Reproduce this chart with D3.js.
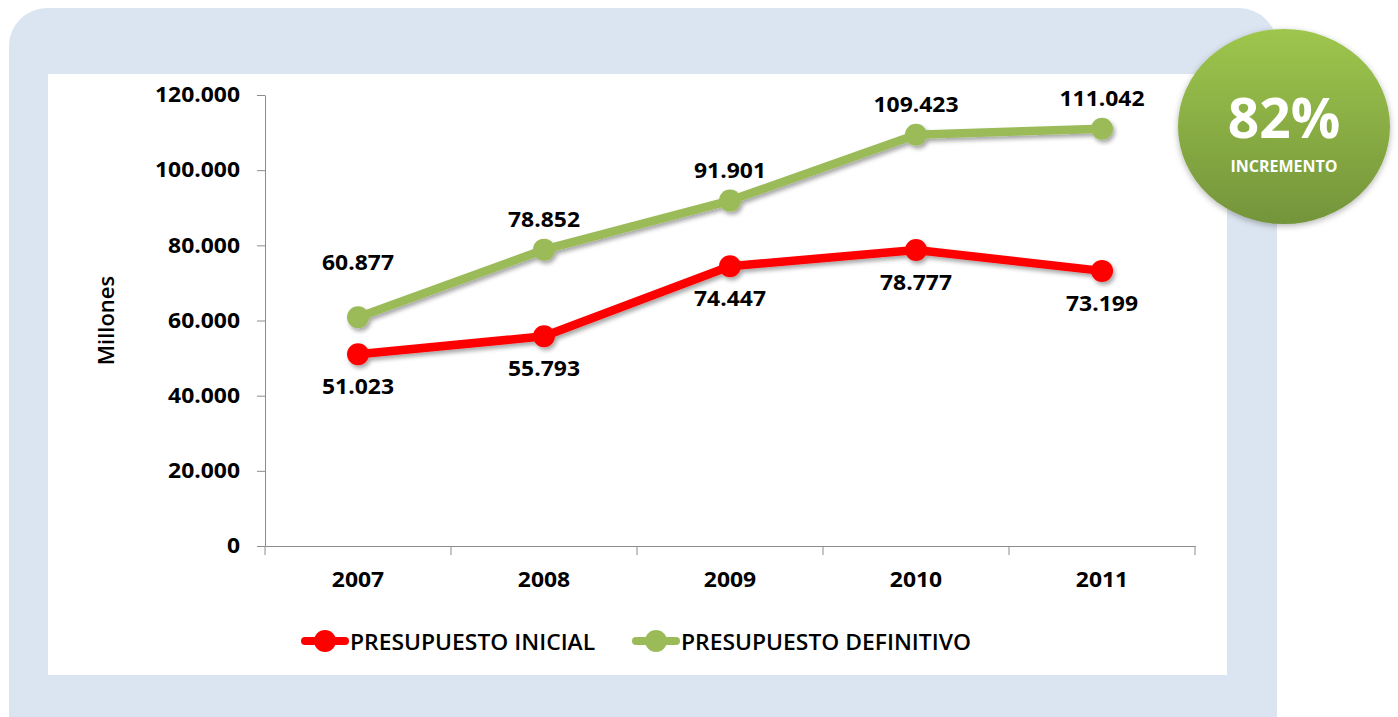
<!DOCTYPE html>
<html>
<head>
<meta charset="utf-8">
<script src="https://cdn.jsdelivr.net/npm/d3@7"></script>
<style>
  html, body { margin: 0; padding: 0; background: #ffffff; }
  svg { display: block; }
  text { font-family: "Open Sans", "Liberation Sans", sans-serif; }
</style>
</head>
<body>
<svg id="chart" width="1398" height="717"></svg>
<script>
// Budget per year, in millions
const years = ["2007", "2008", "2009", "2010", "2011"];
const presupuestoInicial = [51023, 55793, 74447, 78777, 73199];
const presupuestoDefinitivo = [60877, 78852, 91901, 109423, 111042];
const yTicks = [0, 20000, 40000, 60000, 80000, 100000, 120000];
const seriesNames = ["PRESUPUESTO INICIAL", "PRESUPUESTO DEFINITIVO"];
const incremento = "82%";
const incrementoLabel = "INCREMENTO";
const yAxisTitle = "Millones";

const svg = d3.select("#chart");
const textStretch = 1.09;

const locale = d3.formatLocale({ decimal: ",", thousands: ".", grouping: [3], currency: ["", ""] });
const fmt = locale.format(",");

// filters
const defs = svg.append("defs");
const sh = defs.append("filter").attr("id", "lineShadow")
  .attr("x", "-10%").attr("y", "-20%").attr("width", "130%").attr("height", "160%");
sh.append("feDropShadow").attr("dx", 2).attr("dy", 3).attr("stdDeviation", 2)
  .attr("flood-color", "#000").attr("flood-opacity", 0.35);
const bsh = defs.append("filter").attr("id", "badgeShadow")
  .attr("x", "-20%").attr("y", "-20%").attr("width", "140%").attr("height", "140%");
bsh.append("feDropShadow").attr("dx", 0).attr("dy", 2).attr("stdDeviation", 3)
  .attr("flood-color", "#000").attr("flood-opacity", 0.3);
const grad = defs.append("linearGradient").attr("id", "badgeGrad")
  .attr("x1", 0).attr("y1", 0).attr("x2", 0).attr("y2", 1);
grad.append("stop").attr("offset", "0%").attr("stop-color", "#9ec64d");
grad.append("stop").attr("offset", "100%").attr("stop-color", "#74943a");

// frame
svg.append("rect").attr("x", 9).attr("y", 8).attr("width", 1268).attr("height", 760)
  .attr("rx", 38).attr("ry", 38).attr("fill", "#dbe5f1");
svg.append("rect").attr("x", 48).attr("y", 74).attr("width", 1179).attr("height", 601)
  .attr("fill", "#ffffff");

// scales
const x = d3.scaleBand().domain(years).range([265, 1195]);
const y = d3.scaleLinear().domain([0, 120000]).range([546, 95]);

const g = svg.append("g");

// y axis
const yAxis = g.append("g").attr("transform", `translate(${x.range()[0]},0)`)
  .call(d3.axisLeft(y).tickValues(yTicks).tickFormat(fmt).tickSize(8).tickSizeOuter(0).tickPadding(17));
yAxis.select(".domain").attr("stroke", "#8c8c8c");
yAxis.selectAll(".tick line").attr("stroke", "#8c8c8c");
yAxis.selectAll(".tick text")
  .attr("x", -25 / textStretch)
  .attr("transform", `scale(${textStretch},1)`)
  .attr("font-size", 21).attr("font-weight", 700).attr("fill", "#000")
  .attr("font-family", "'Open Sans', sans-serif");

// x axis
const xAxis = g.append("g").attr("transform", `translate(0,${y(0)})`)
  .call(d3.axisBottom(x).tickSize(0).tickSizeOuter(0).tickPadding(26));
xAxis.select(".domain").attr("stroke", "#8c8c8c");
xAxis.selectAll(".tick text")
  .attr("transform", `scale(${textStretch},1)`)
  .attr("font-size", 21).attr("font-weight", 700).attr("fill", "#000")
  .attr("font-family", "'Open Sans', sans-serif");
// category boundary tick marks
const bounds = years.map(d => x(d)).concat([x.range()[1]]);
xAxis.selectAll(".bound").data(bounds).enter().append("line")
  .attr("class", "bound")
  .attr("x1", d => d).attr("x2", d => d).attr("y1", 0).attr("y2", 9)
  .attr("stroke", "#8c8c8c");

// y title
g.append("text")
  .attr("transform", `translate(114,${(y(0) + y(120000)) / 2}) rotate(-90)`)
  .attr("text-anchor", "middle")
  .attr("font-size", 22).attr("font-weight", 600).attr("fill", "#000")
  .text(yAxisTitle);

// series
const series = [
  { name: seriesNames[0], values: presupuestoInicial, color: "#ff0000", labelDy: 40 },
  { name: seriesNames[1], values: presupuestoDefinitivo, color: "#9bbb59", labelDy: -23 }
];
const cx = d => x(d) + x.bandwidth() / 2;
const line = d3.line().x(d => cx(d.year)).y(d => y(d.value));

series.slice().reverse().forEach(s => {
  const pts = years.map((yr, i) => ({ year: yr, value: s.values[i] }));
  const sg = g.append("g").attr("filter", "url(#lineShadow)");
  sg.append("path").datum(pts).attr("d", line)
    .attr("fill", "none").attr("stroke", s.color).attr("stroke-width", 8.5)
    .attr("stroke-linejoin", "round").attr("stroke-linecap", "round");
  sg.selectAll("circle").data(pts).enter().append("circle")
    .attr("cx", d => cx(d.year)).attr("cy", d => y(d.value)).attr("r", 11)
    .attr("fill", s.color);
});

// value labels
series.forEach(s => {
  const pts = years.map((yr, i) => ({ year: yr, value: s.values[i] }));
  g.selectAll(null).data(pts).enter().append("text")
    .attr("transform", (d, i) => {
      // the first upper label sits higher to clear the lower line
      const extra = (s.labelDy < 0 && i === 0) ? -24 : 0;
      return `translate(${cx(d.year)},${y(d.value) + s.labelDy + extra}) scale(${textStretch},1)`;
    })
    .attr("text-anchor", "middle")
    .attr("font-size", 21).attr("font-weight", 700).attr("fill", "#000")
    .text(d => fmt(d.value));
});

// legend
const legend = g.append("g");
const legendItems = [
  { name: series[0].name, color: series[0].color, x: 305 },
  { name: series[1].name, color: series[1].color, x: 636 }
];
legendItems.forEach(it => {
  const lg = legend.append("g").attr("transform", `translate(${it.x},641)`);
  lg.append("line").attr("x1", 0).attr("x2", 40).attr("y1", 0).attr("y2", 0)
    .attr("stroke", it.color).attr("stroke-width", 8).attr("stroke-linecap", "round");
  lg.append("circle").attr("cx", 20).attr("cy", 0).attr("r", 11).attr("fill", it.color);
  lg.append("text").attr("transform", "translate(45,9) scale(1.04,1)")
    .attr("font-size", 22).attr("font-weight", 600).attr("fill", "#000").text(it.name);
});

// badge
const badge = svg.append("g");
badge.append("ellipse").attr("cx", 1284).attr("cy", 126.5).attr("rx", 106).attr("ry", 97.5)
  .attr("fill", "url(#badgeGrad)").attr("filter", "url(#badgeShadow)");
badge.append("text").attr("x", 1284).attr("y", 138).attr("text-anchor", "middle")
  .attr("font-size", 55).attr("font-weight", 700).attr("fill", "#ffffff").text(incremento);
badge.append("text").attr("x", 1284).attr("y", 172).attr("text-anchor", "middle")
  .attr("font-size", 16).attr("font-weight", 700).attr("fill", "#ffffff").text(incrementoLabel);
</script>
</body>
</html>
